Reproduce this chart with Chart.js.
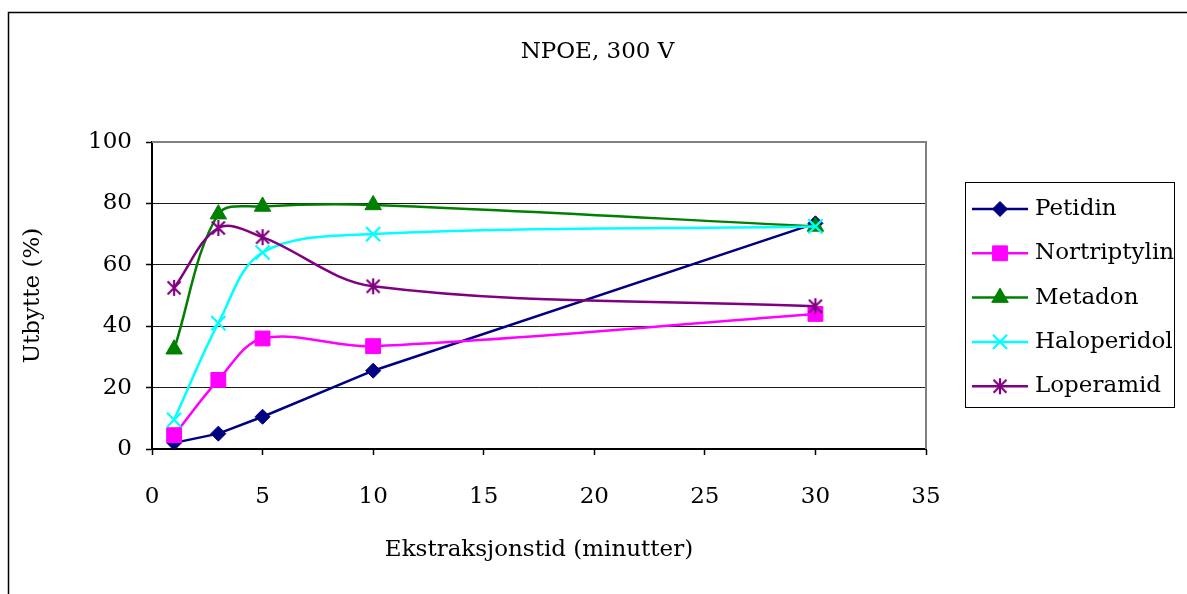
<!DOCTYPE html>
<html>
<head>
<meta charset="utf-8">
<title>NPOE, 300 V</title>
<script src="https://cdn.jsdelivr.net/npm/chart.js@4.4.1/dist/chart.umd.min.js"></script>
<style>
  body { margin: 0; background: #fff; }
  .chart-wrapper { position: relative; width: 1187px; height: 594px; }
</style>
</head>
<body>
<div class="chart-wrapper">
  <canvas id="myChart" width="1187" height="594"></canvas>
</div>

<script>
// extraction time (min) and yield (%) per compound
const tider = [1, 3, 5, 10, 30];
const petidin = [2, 5, 10.5, 25.5, 73.5];
const nortriptylin = [4.5, 22.5, 36, 33.5, 44];
const metadon = [32.5, 76.5, 79, 79.5, 72.5];
const haloperidol = [9.5, 41, 64, 70, 72.5];
const loperamid = [52.5, 72, 69, 53, 46.5];

const xTicks = [0, 5, 10, 15, 20, 25, 30, 35];
const yTicks = [0, 20, 40, 60, 80, 100];

// asterisk marker (vertical bar + X), chart.js "star" has too many arms
function asterisk(color) {
  const c = document.createElement('canvas');
  c.width = 20; c.height = 20;
  const g = c.getContext('2d');
  g.strokeStyle = color;
  g.lineWidth = 2.2;
  g.beginPath();
  g.moveTo(10, 2); g.lineTo(10, 18);
  g.moveTo(3.5, 3.5); g.lineTo(16.5, 16.5);
  g.moveTo(16.5, 3.5); g.lineTo(3.5, 16.5);
  g.stroke();
  return c;
}

const serier = [
  { label: 'Petidin', values: petidin, color: '#000080', style: 'rectRot', radius: 7.5, tension: 0 },
  { label: 'Nortriptylin', values: nortriptylin, color: '#FF00FF', style: 'rect', radius: 10.5, tension: 0.35 },
  { label: 'Metadon', values: metadon, color: '#008000', style: 'triangle', radius: 9.5, tension: 0.35 },
  { label: 'Haloperidol', values: haloperidol, color: '#00FFFF', style: 'crossRot', radius: 10, tension: 0.35 },
  { label: 'Loperamid', values: loperamid, color: '#800080', style: asterisk('#800080'), radius: 10, tension: 0.35 }
];

Chart.defaults.font.family = "'DejaVu Serif', serif";
Chart.defaults.font.size = 23;
Chart.defaults.color = '#000';

// outer frame + grey plot border
const frame = {
  id: 'frame',
  beforeDraw(chart) {
    const ctx = chart.ctx;
    ctx.save();
    ctx.fillStyle = '#fff';
    ctx.fillRect(0, 0, chart.width, chart.height);
    ctx.strokeStyle = '#000';
    ctx.lineWidth = 1.5;
    ctx.beginPath();
    ctx.moveTo(8.5, chart.height);
    ctx.lineTo(8.5, 12.5);
    ctx.lineTo(chart.width, 12.5);
    ctx.stroke();
    ctx.restore();
  },
  beforeDatasetsDraw(chart) {
    const a = chart.chartArea, ctx = chart.ctx;
    ctx.save();
    ctx.strokeStyle = '#808080';
    ctx.lineWidth = 2;
    ctx.beginPath();
    ctx.moveTo(a.left, a.top);
    ctx.lineTo(a.right, a.top);
    ctx.lineTo(a.right, a.bottom);
    ctx.stroke();
    ctx.restore();
  }
};

// boxed legend with line + marker samples
const legendBox = {
  id: 'legendBox',
  afterDraw(chart) {
    const ctx = chart.ctx;
    const left = chart.chartArea.right + 39;
    const top = chart.chartArea.top + 40;
    const w = 209, h = 225, step = 44.3;
    ctx.save();
    ctx.strokeStyle = '#000';
    ctx.lineWidth = 1;
    ctx.strokeRect(left + 0.5, top + 0.5, w, h);
    chart.data.datasets.forEach((ds, i) => {
      const y = top + 27 + i * step;
      ctx.strokeStyle = ds.borderColor;
      ctx.fillStyle = ds.pointBackgroundColor;
      ctx.lineWidth = ds.borderWidth;
      ctx.beginPath();
      ctx.moveTo(left + 7, y);
      ctx.lineTo(left + 63, y);
      ctx.stroke();
      ctx.lineWidth = ds.pointBorderWidth;
      Chart.helpers.drawPoint(ctx, {
        pointStyle: ds.pointStyle, radius: ds.pointRadius,
        rotation: 0, borderWidth: ds.pointBorderWidth
      }, left + 35, y);
      ctx.fillStyle = '#000';
      ctx.font = "23px 'DejaVu Serif', serif";
      ctx.textBaseline = 'middle';
      ctx.textAlign = 'left';
      ctx.fillText(ds.label, left + 70, y);
    });
    ctx.restore();
  }
};

const myChart = new Chart(document.getElementById('myChart'), {
  type: 'line',
  data: {
    datasets: serier.map((s, i) => ({
      label: s.label,
      data: tider.map((t, j) => ({ x: t, y: s.values[j] })),
      borderColor: s.color,
      backgroundColor: s.color,
      pointBackgroundColor: s.color,
      pointBorderColor: s.color,
      pointStyle: s.style,
      pointRadius: s.radius,
      pointBorderWidth: s.style === 'crossRot' ? 2.2 : 1,
      borderWidth: 2.5,
      tension: s.tension,
      fill: false,
      order: serier.length - i
    }))
  },
  options: {
    responsive: false,
    animation: false,
    layout: { padding: { left: 8, right: 0, top: 0, bottom: 0 } },
    plugins: {
      legend: { display: false },
      tooltip: { enabled: false },
      title: {
        display: true,
        text: 'NPOE, 300 V',
        color: '#000',
        font: { size: 23, weight: 'normal' },
        padding: { top: 38, bottom: 76.4 }
      }
    },
    scales: {
      x: {
        type: 'linear',
        min: 0,
        max: 35,
        afterBuildTicks: (scale) => { scale.ticks = xTicks.map(v => ({ value: v })); },
        afterFit: (scale) => { scale.height = 145; },
        ticks: { padding: 28, color: '#000' },
        grid: { drawOnChartArea: false, tickLength: 6, tickColor: '#000', tickWidth: 1.5 },
        border: { color: '#000', width: 2 },
        title: {
          display: true,
          text: 'Ekstraksjonstid (minutter)',
          color: '#000',
          padding: { top: 0, bottom: 30 }
        }
      },
      y: {
        min: 0,
        max: 100,
        afterBuildTicks: (scale) => { scale.ticks = yTicks.map(v => ({ value: v })); },
        afterFit: (scale) => { scale.width = 144; },
        ticks: { padding: 14, color: '#000' },
        grid: {
          color: (c) => (c.tick && c.tick.value === 100) ? 'rgba(0,0,0,0)' : '#1a1a1a',
          lineWidth: 1,
          tickLength: 6,
          tickColor: '#000',
          tickWidth: 1.5
        },
        border: { color: '#000', width: 2 },
        title: {
          display: true,
          text: 'Utbytte (%)',
          color: '#000',
          padding: { top: 11, bottom: 0 }
        }
      },
      // empty right-hand axis that reserves room for the legend box
      legendSpace: {
        position: 'right',
        min: 0,
        max: 100,
        afterFit: (scale) => { scale.width = 261; },
        ticks: { display: false },
        grid: { display: false },
        border: { display: false }
      }
    }
  },
  plugins: [frame, legendBox]
});
</script>
</body>
</html>
